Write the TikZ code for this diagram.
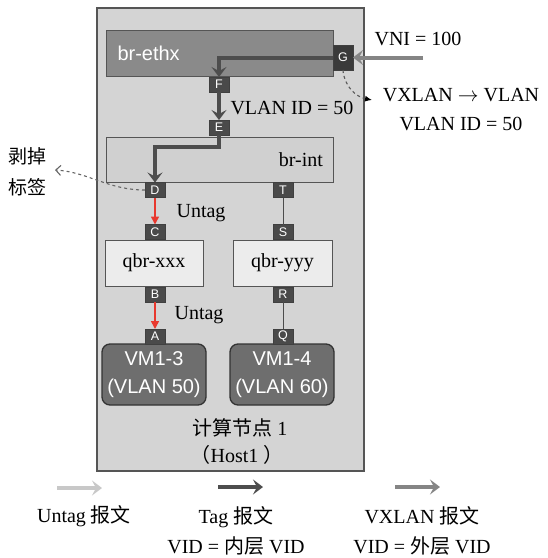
\documentclass[tikz,border=0pt]{standalone}
\usepackage{fontspec}
\setmainfont{Liberation Serif}
\setsansfont{Liberation Sans}
\newfontfamily\cjk{Noto Sans CJK SC}
\usetikzlibrary{arrows.meta}
\definecolor{hostfill}{HTML}{D4D4D4}
\definecolor{edgec}{HTML}{555555}
\definecolor{ethfill}{HTML}{8A8A8A}
\definecolor{intfill}{HTML}{D0D0D0}
\definecolor{qbrfill}{HTML}{ECECEC}
\definecolor{portfill}{HTML}{4A4A4A}
\definecolor{gfill}{HTML}{3A3A3A}
\definecolor{vmfill}{HTML}{6E6E6E}
\definecolor{tagc}{HTML}{4D4D4D}
\definecolor{vxc}{HTML}{858585}
\definecolor{untagc}{HTML}{C8C8C8}
\definecolor{redc}{HTML}{E8382E}
\begin{document}
\begin{tikzpicture}[x=1pt,y=-1pt,
  swbox/.style={draw=edgec, line width=1pt, inner sep=0pt, outer sep=0pt},
  port/.style={draw=black!75, fill=portfill, line width=0.6pt, minimum width=20pt, minimum height=15pt,
    inner sep=0pt, outer sep=0pt, text=white, font=\sffamily\fontsize{12.5}{12.5}\selectfont},
  txt/.style={inner sep=1pt, font=\fontsize{20}{24}\selectfont},
  vmbox/.style={draw=black!80, line width=1.3pt, fill=vmfill, rounded corners=8pt, minimum width=104pt,
    minimum height=61pt, inner sep=0pt, text=white, align=center, font=\sffamily\fontsize{20}{28}\selectfont},
  tagarrow/.style={draw=tagc, line width=4pt, -{Stealth[length=10pt,width=15pt,inset=4pt]}},
  vxarrow/.style={draw=vxc, line width=4pt, -{Stealth[length=10pt,width=15pt,inset=4pt]}},
  untagarrow/.style={draw=untagc, line width=4pt, -{Stealth[length=10pt,width=15pt,inset=4pt]}},
  redarrow/.style={draw=redc, line width=1.6pt, -{Triangle[length=8pt,width=8pt]}},
  link/.style={draw=black!70, line width=0.8pt}
]
\path[use as bounding box] (0,0) rectangle (548,558);

% host
\node[draw=edgec, line width=1.5pt, fill=hostfill, minimum width=267pt, minimum height=463pt, inner sep=0pt] (host) at (230.5,239.5) {};

% bridges
\node[swbox, fill=ethfill, minimum width=227pt, minimum height=46pt, text width=204pt, align=left,
  text=white, font=\sffamily\fontsize{20}{24}\selectfont] (brethx) at (219.5,53) {br-ethx};
\node[swbox, fill=intfill, minimum width=227pt, minimum height=45pt, text width=207pt, align=right,
  font=\fontsize{20}{24}\selectfont] (brint) at (219.5,159.5) {br-int};
\node[swbox, fill=qbrfill, minimum width=98pt, minimum height=46pt, font=\fontsize{20}{24}\selectfont] (qbrx) at (154,263) {qbr-xxx};
\node[swbox, fill=qbrfill, minimum width=99pt, minimum height=46pt, font=\fontsize{20}{24}\selectfont] (qbry) at (282.5,263) {qbr-yyy};

% VMs
\node[vmbox] (vm13) at (154,374.5) {VM1-3\\(VLAN 50)};
\node[vmbox] (vm14) at (282,374.5) {VM1-4\\(VLAN 60)};

% ports
\node[port, fill=gfill, minimum height=25pt] (G) at (343,57.5) {G};
\node[port] (F) at (219,84.5) {F};
\node[port] (E) at (219,127.5) {E};
\node[port] (D) at (155,190) {D};
\node[port] (T) at (283,190) {T};
\node[port] (C) at (155,232) {C};
\node[port] (S) at (283,232) {S};
\node[port] (B) at (155,294.5) {B};
\node[port] (R) at (283,294.5) {R};
\node[port] (A) at (155,336.5) {A};
\node[port] (Q) at (283,336.5) {Q};

% links
\draw[link] (T) -- (S);
\draw[link] (R) -- (Q);

% tagged path
\draw[tagarrow] (G.west) -| (F.north);
\draw[tagarrow] (F.south) -- (E.north);
\draw[tagarrow] (E.south) -- ++(0,12) -| (D.north);

% untag arrows
\draw[redarrow] (D.south) -- (C.north);
\draw[redarrow] (B.south) -- (A.north);

% VXLAN incoming
\coordinate (vni) at (423,57.5);
\draw[vxarrow] (vni) -- (G.east);

% texts
\node[txt] (vnit) at (418,39) {VNI = 100};
\node[txt, align=center, font=\fontsize{20}{29}\selectfont] (vxt) at (461,109.5) {VXLAN $\rightarrow$ VLAN\\VLAN ID = 50};
\node[txt] (vid50) at (292,108) {VLAN ID = 50};
\node[txt] (ut1) at (201,213) {Untag};
\node[txt] (ut2) at (199,315) {Untag};
\node[txt, align=center, font=\cjk\fontsize{19}{31}\selectfont] (strip) at (28,172) {剥掉\\标签};
\node[txt] (hostt) at (240,428) {{\cjk 计算节点} 1};
\node[txt] (hostn) at (237,455) {{\cjk （}Host1 {\cjk ）}};

% dashed annotations
\coordinate (vxend) at (372,100);
\draw[draw=black!65, dashed, line width=1.1pt, -{Latex[length=7pt,width=6pt,black]}]
  (G.south) .. controls (344,86) and (356,97) .. (vxend);
\coordinate (stripend) at (55,170);
\draw[draw=black!60, dashed, line width=1.1pt, -{Straight Barb[length=5pt,width=10pt]}]
  (D.west) .. controls (108,190) and (88,172) .. (stripend);

% legend
\coordinate (l1s) at (57,488); \coordinate (l1e) at (102,488);
\coordinate (l2s) at (218,487); \coordinate (l2e) at (263,487);
\coordinate (l3s) at (395,487); \coordinate (l3e) at (440,487);
\draw[untagarrow] (l1s) -- (l1e);
\draw[tagarrow] (l2s) -- (l2e);
\draw[vxarrow] (l3s) -- (l3e);
\node[txt] (lg1) at (84,516) {Untag {\cjk 报文}};
\node[txt, align=center, font=\fontsize{20}{30}\selectfont] (lg2) at (236,530.5) {Tag {\cjk 报文}\\VID = {\cjk 内层} VID};
\node[txt, align=center, font=\fontsize{20}{30}\selectfont] (lg3) at (422,530.5) {VXLAN {\cjk 报文}\\VID = {\cjk 外层} VID};
\end{tikzpicture}
\end{document}
